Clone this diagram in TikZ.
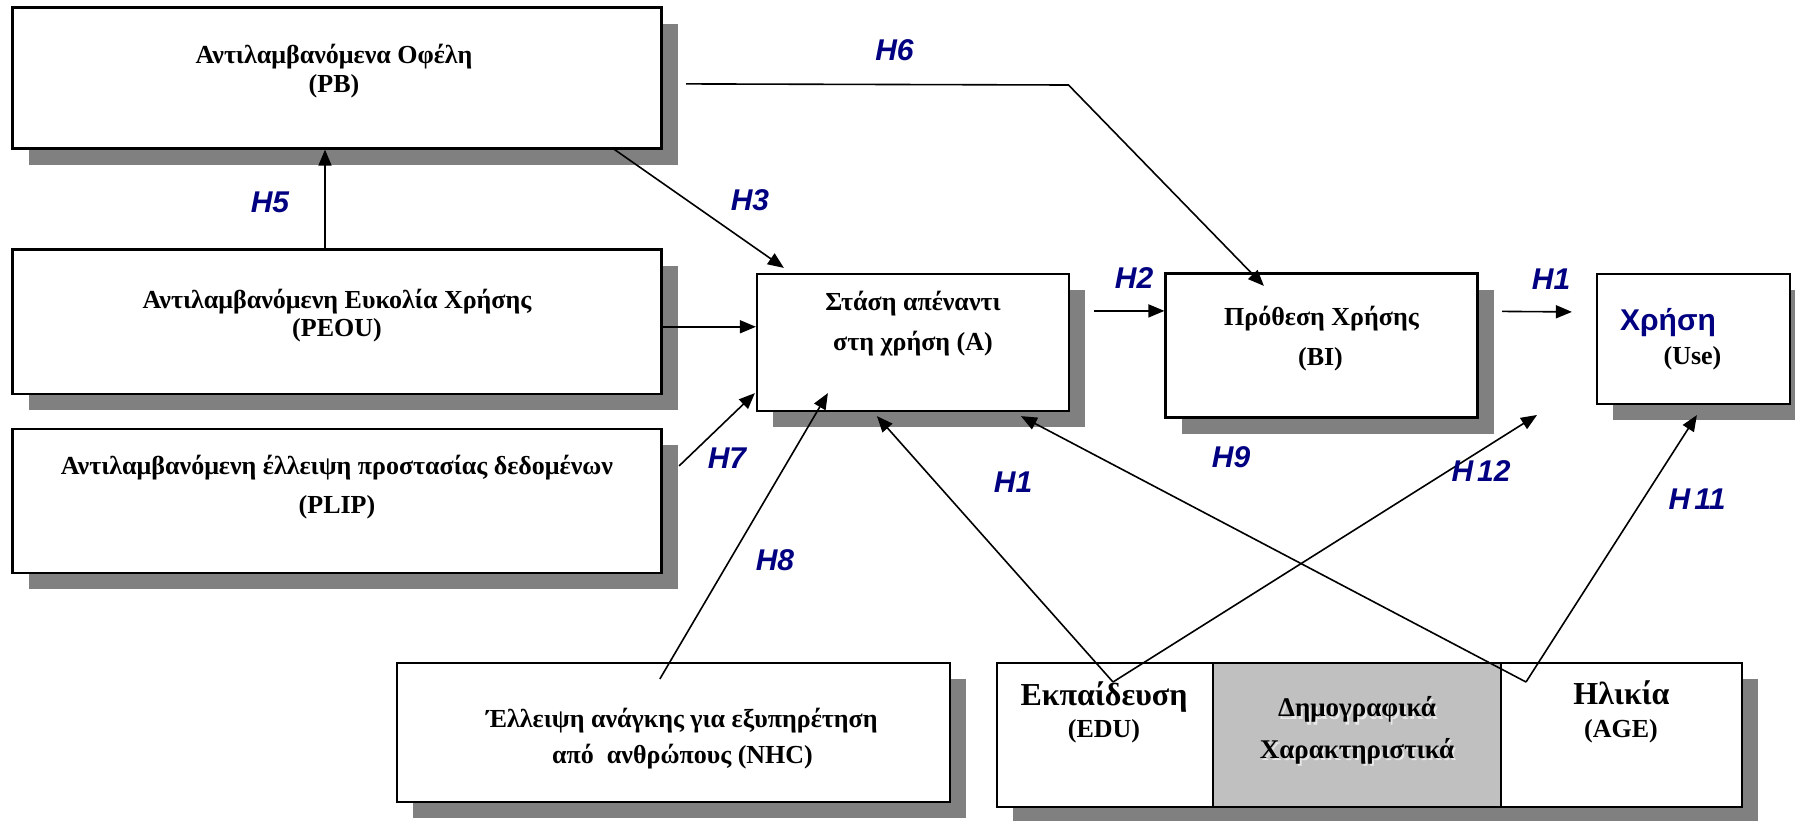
\documentclass[tikz,border=0pt]{standalone}
\usepackage{fontspec}
\setmainfont{Liberation Serif}
\newfontfamily\arialfont{Liberation Sans}
\usetikzlibrary{arrows.meta,shadows,calc}
\definecolor{navyhyp}{HTML}{000080}
\definecolor{shadowgray}{HTML}{808080}
\definecolor{cellgray}{HTML}{C0C0C0}
\definecolor{embossgray}{HTML}{E8E8E8}

\begin{document}
\begin{tikzpicture}[x=1pt,y=-1pt,
  box/.style={draw=black,line width=2.2pt,fill=white,inner sep=0pt,
    drop shadow={shadow xshift=16pt,shadow yshift=-16pt,fill=shadowgray,opacity=1}},
  cell/.style={draw=black,line width=2.2pt,inner sep=0pt},
  txt/.style={font=\bfseries\fontsize{26}{30}\selectfont,anchor=base,inner sep=0pt},
  bigtxt/.style={font=\bfseries\fontsize{32}{36}\selectfont,anchor=base,inner sep=0pt},
  midtxt/.style={font=\bfseries\fontsize{27}{30}\selectfont,anchor=base,inner sep=0pt},
  usetxt/.style={font=\arialfont\bfseries\fontsize{30}{34}\selectfont,text=navyhyp,anchor=base,inner sep=0pt},
  hyp/.style={font=\arialfont\bfseries\itshape\fontsize{30}{30}\selectfont,text=navyhyp,inner sep=0pt},
  arr/.style={line width=1.6pt,-{Triangle[length=16pt,width=13pt]}},
  link/.style={line width=1.6pt}
]
\useasboundingbox (0,0) rectangle (1795,820);

% ---- construct boxes ----
\node[box,minimum width=649pt,minimum height=141pt] (pb) at (337,78) {};
\node[box,minimum width=649pt,minimum height=144.5pt] (peou) at (337,321.75) {};
\node[box,minimum width=649pt,minimum height=144pt] (plip) at (337,501) {};
\node[box,minimum width=312pt,minimum height=137pt] (a) at (913,342.5) {};
\node[box,minimum width=312pt,minimum height=144pt] (bi) at (1321.5,345.5) {};
\node[box,minimum width=193pt,minimum height=130pt] (use) at (1693.5,339) {};
\node[box,minimum width=553pt,minimum height=139pt] (nhc) at (673.5,732.5) {};

% ---- demographics block: three cells ----
\node[box,minimum width=745pt,minimum height=144pt] (dem) at (1369.5,735) {};
\node[cell,fill=white,minimum width=216pt,minimum height=144pt] (edu) at (1105,735) {};
\node[cell,fill=cellgray,minimum width=288pt,minimum height=144pt] (mid) at (1357,735) {};
\node[cell,fill=white,minimum width=241pt,minimum height=144pt] (age) at (1621.5,735) {};

% ---- box texts ----
\node[txt] (pbt1) at (334,63) {Αντιλαμβανόμενα Οφέλη};
\node[txt] (pbt2) at (334,92) {(PB)};
\node[txt] (peout1) at (337,308) {Αντιλαμβανόμενη Ευκολία Χρήσης};
\node[txt] (peout2) at (337,336) {(PEOU)};
\node[txt] (plipt1) at (337,474) {Αντιλαμβανόμενη έλλειψη προστασίας δεδομένων};
\node[txt] (plipt2) at (337,513) {(PLIP)};
\node[txt] (at1) at (913,310) {Στάση απέναντι};
\node[txt] (at2) at (913,350) {στη χρήση (A)};
\node[txt] (bit1) at (1321.5,325) {Πρόθεση Χρήσης};
\node[txt] (bit2) at (1320.5,365) {(BI)};
\node[usetxt] (uset1) at (1668,330.5) {Χρήση};
\node[txt] (uset2) at (1692.5,364) {(Use)};
\node[txt] (nhct1) at (682,727) {Έλλειψη ανάγκης για εξυπηρέτηση};
\node[txt] (nhct2) at (682.5,763) {από\ \ ανθρώπους (NHC)};
\node[bigtxt] (edut1) at (1104,705.5) {Εκπαίδευση};
\node[txt] (edut2) at (1104,737) {(EDU)};
\node[bigtxt] (aget1) at (1621.5,704) {Ηλικία};
\node[txt] (aget2) at (1621,737) {(AGE)};
% embossed caption in the middle cell
\node[midtxt,text=embossgray] (midt1s) at (1359,719) {Δημογραφικά};
\node[midtxt,text=embossgray] (midt2s) at (1359,760.5) {Χαρακτηριστικά};
\node[midtxt] (midt1) at (1357,716.5) {Δημογραφικά};
\node[midtxt] (midt2) at (1357,758) {Χαρακτηριστικά};

% ---- connector end points ----
\coordinate (aW)    at ($(a.north west)!0.387!(a.south west)$);
\coordinate (h7s)   at ([shift={(16.5,38)}]plip.north east);
\coordinate (h7t)   at ([shift={(-1,-19)}]a.south west);
\coordinate (h8s)   at ([shift={(264,17)}]nhc.north west);
\coordinate (h8t)   at ([shift={(72,-19)}]a.south west);
\coordinate (h3s)   at ([xshift=-48pt]pb.south east);
\coordinate (h3t)   at ([shift={(28,-5)}]a.north west);
\coordinate (h5s)   at ([xshift=-12pt]peou.north);
\coordinate (h6s)   at ([shift={(23.5,77.5)}]pb.north east);
\coordinate (h6b)   at (1068.5,85);
\coordinate (h6t)   at ([shift={(99.5,13.5)}]bi.north west);
\coordinate (biW)   at ([shift={(0,38.5)}]bi.north west);
\coordinate (h2s)   at ([xshift=24pt]biW -| a.east);
\coordinate (h1s)   at ([shift={(23.5,39)}]bi.north east);
\coordinate (h1t)   at ([shift={(-24,39)}]use.north west);
\coordinate (eduv)  at (1113,682);
\coordinate (agev)  at (1526,682);
\coordinate (edut)  at ([shift={(121,4)}]a.south west);
\coordinate (h9t)   at ([shift={(265,4)}]a.south west);
\coordinate (h12t)  at (1537,415);
\coordinate (h11t)  at ([shift={(101,10)}]use.south west);

% ---- connectors ----
\draw[arr] (h5s) -- (h5s |- pb.south);
\draw[arr] (h3s) -- (h3t);
\draw[arr] (h6s) -- (h6b) -- (h6t);
\draw[arr] (aW -| peou.east) -- (aW);
\draw[arr] (h7s) -- (h7t);
\draw[arr] (h8s) -- (h8t);
\draw[arr] (h2s) -- (biW);
\draw[arr] (h1s) -- (h1t);
\draw[arr] (eduv) -- (edut);
\draw[arr] (eduv) -- (h12t);
\draw[arr] (agev) -- (h9t);
\draw[arr] (agev) -- (h11t);

% ---- hypothesis labels ----
\node[hyp] (lh6)  at (894.5,50)  {H6};
\node[hyp] (lh3)  at (750,200)   {H3};
\node[hyp] (lh5)  at (270,202)   {H5};
\node[hyp] (lh2)  at (1134,278)  {H2};
\node[hyp] (lh1a) at (1551,279)  {H1};
\node[hyp] (lh7)  at (727,458)   {H7};
\node[hyp] (lh8)  at (775,560)   {H8};
\node[hyp] (lh1b) at (1013,482)  {H1};
\node[hyp] (lh9)  at (1231,457.5) {H9};
\node[hyp] (lh12) at (1481,471)  {H\kern4pt 12};
\node[hyp] (lh11) at (1697,499)  {H\kern4pt 11};
\end{tikzpicture}
\end{document}
